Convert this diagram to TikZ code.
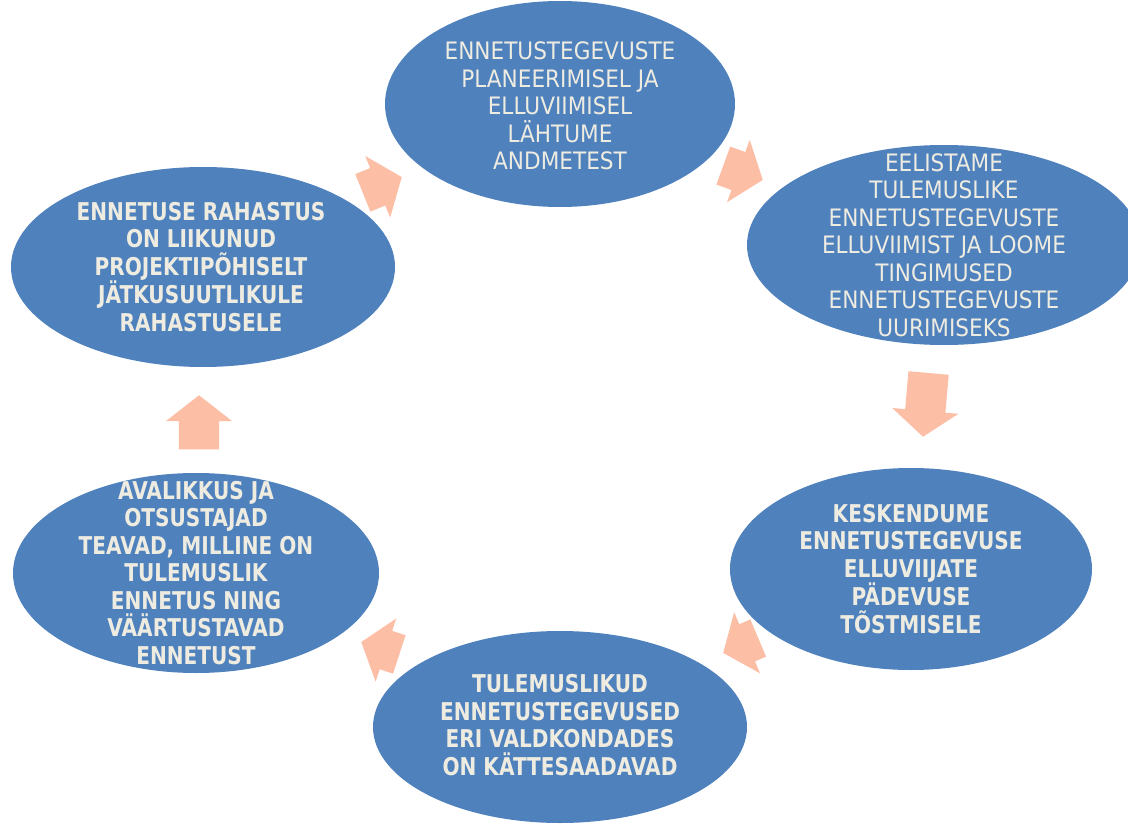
\documentclass[tikz,border=0pt]{standalone}
\usepackage{fontspec}
\usetikzlibrary{shapes.geometric,shapes.arrows}
\newfontfamily\bubblefont{DejaVu Sans}[FakeStretch=0.9]
\newfontfamily\bubblefontbold{DejaVu Sans}[FakeStretch=0.82]
\definecolor{bubbleblue}{HTML}{4F81BD}
\definecolor{bubbletext}{HTML}{EEECE1}
\definecolor{arrowpeach}{HTML}{FCBFA6}
\tikzset{
  bubble/.style={ellipse, fill=bubbleblue, inner sep=0},
  thin text/.style={text=bubbletext, align=center, inner sep=0, font=\bubblefont\fontsize{24}{27.5}\selectfont},
  bold text/.style={text=bubbletext, align=center, inner sep=0, font=\bubblefontbold\bfseries\fontsize{24.5}{27.5}\selectfont},
  blockarrow/.style={single arrow, fill=arrowpeach, inner xsep=0, inner ysep=20, single arrow head extend=13, single arrow tip angle=104, anchor=tip}
}

\begin{document}
\begin{tikzpicture}[x=1pt,y=-1pt]
  \clip (0,0) rectangle (1128,824);
  \fill[white] (0,0) rectangle (1128,824);

  % the six ellipses
  \node[bubble, minimum width=350, minimum height=206] (plan) at (560,104) {};
  \node[bubble, minimum width=394, minimum height=200] (prefer) at (944,245) {};
  \node[bubble, minimum width=362, minimum height=202] (focus) at (911,569) {};
  \node[bubble, minimum width=374, minimum height=192] (available) at (560,727) {};
  \node[bubble, minimum width=366, minimum height=200] (public) at (196,573) {};
  \node[bubble, minimum width=384, minimum height=200] (funding) at (203,267) {};

  \node[thin text] (plan text) at (560,106) {ENNETUSTEGEVUSTE\\PLANEERIMISEL JA\\ELLUVIIMISEL\\LÄHTUME\\ANDMETEST};
  \node[thin text] (prefer text) at (prefer) {EELISTAME\\TULEMUSLIKE\\ENNETUSTEGEVUSTE\\ELLUVIIMIST JA LOOME\\TINGIMUSED\\ENNETUSTEGEVUSTE\\UURIMISEKS};
  \node[bold text] (focus text) at (focus) {KESKENDUME\\ENNETUSTEGEVUSE\\ELLUVIIJATE\\PÄDEVUSE\\TÕSTMISELE};
  \node[bold text] (available text) at (560,725) {TULEMUSLIKUD\\ENNETUSTEGEVUSED\\ERI VALDKONDADES\\ON KÄTTESAADAVAD};
  \node[bold text] (public text) at (public) {AVALIKKUS JA\\OTSUSTAJAD\\TEAVAD, MILLINE ON\\TULEMUSLIK\\ENNETUS NING\\VÄÄRTUSTAVAD\\ENNETUST};
  \node[bold text] (funding text) at (201,267) {ENNETUSE RAHASTUS\\ON LIIKUNUD\\PROJEKTIPÕHISELT\\JÄTKUSUUTLIKULE\\RAHASTUSELE};

  % block arrows around the cycle, placed by their tips
  \node[blockarrow, minimum height=42, rotate=22] (a1) at (402,177) {};
  \node[blockarrow, minimum height=42, rotate=-20] (a2) at (763,180) {};
  \node[blockarrow, minimum height=64, rotate=-95] (a3) at (923,437) {};
  \node[blockarrow, minimum height=38, rotate=203] (a4) at (723,653) {};
  \node[blockarrow, minimum height=40, rotate=162] (a5) at (361,642) {};
  \node[blockarrow, minimum height=54, rotate=90] (a6) at (199,395) {};
\end{tikzpicture}
\end{document}
